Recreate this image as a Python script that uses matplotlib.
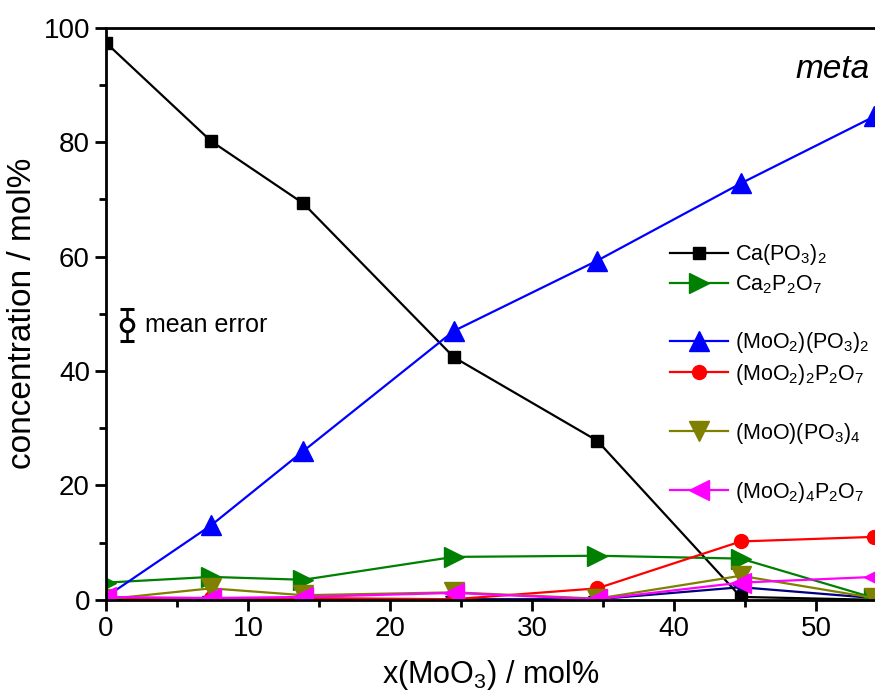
import matplotlib
matplotlib.use('Agg')
import matplotlib.pyplot as plt
from matplotlib.lines import Line2D
from matplotlib.ticker import MultipleLocator

plt.rcParams['font.family'] = ['Liberation Sans', 'DejaVu Sans']
plt.rcParams['mathtext.fontset'] = 'custom'
plt.rcParams['mathtext.rm'] = 'Liberation Sans'
plt.rcParams['mathtext.it'] = 'Liberation Sans:italic'

# data
x_moo3 = [0, 7.4, 13.9, 24.5, 34.6, 44.7, 54.1]
ca_po3 = [97.4, 80.2, 69.3, 42.4, 27.8, 0.5, 0.0]
ca2p2o7 = [3.0, 4.0, 3.5, 7.5, 7.7, 7.2, 0.3]
moo2_po3 = [0.5, 13.0, 26.0, 47.0, 59.3, 72.8, 84.5]
moo2_2p2o7 = [0.3, 0.3, 0.3, 0.1, 2.0, 10.2, 11.0]
moo_po3_4 = [0.1, 2.0, 0.8, 1.3, 0.2, 4.2, 0.3]
moo2_4p2o7 = [0.5, 0.3, 0.5, 1.2, 0.1, 3.0, 4.0]
other = [0.1, 0.1, 0.1, 0.1, 0.1, 2.2, 0.3]

err_x = [1.5]
err_y = [48.1]
err_val = [2.8]

fig = plt.figure(figsize=(8.75, 6.95), dpi=100)
ax = fig.add_axes([0.121, 0.137, 0.879, 0.823])

lw = 1.6
ax.plot(x_moo3, other, '-*', color='#000080', lw=lw, ms=13)
h1, = ax.plot(x_moo3, ca_po3, '-s', color='black', lw=lw, ms=8.5)
h2, = ax.plot(x_moo3, ca2p2o7, '->', color='#008000', lw=lw, ms=14)
h3, = ax.plot(x_moo3, moo2_po3, '-^', color='blue', lw=lw, ms=14)
h4, = ax.plot(x_moo3, moo2_2p2o7, '-o', color='red', lw=lw, ms=10)
h5, = ax.plot(x_moo3, moo_po3_4, '-v', color='#808000', lw=lw, ms=14)
h6, = ax.plot(x_moo3, moo2_4p2o7, '-<', color='magenta', lw=lw, ms=14)

ax.errorbar(err_x, err_y, yerr=err_val, fmt='o', mfc='white', mec='black',
            mew=2.2, ms=9, ecolor='black', elinewidth=1.8, capsize=5, capthick=1.8)
ax.text(2.75, 48.1, 'mean error', fontsize=18, va='center', ha='left')

ax.text(0.993, 0.913, 'meta', transform=ax.transAxes, fontsize=24,
        style='italic', ha='right', va='baseline')

blank = Line2D([], [], color='none')
handles = [h1, h2, blank, h3, h4, blank, h5, blank, h6]
labels = [r'Ca(PO$_3$)$_2$', r'Ca$_2$P$_2$O$_7$', ' ',
          r'(MoO$_2$)(PO$_3$)$_2$', r'(MoO$_2$)$_2$P$_2$O$_7$', ' ',
          r'(MoO)(PO$_3$)$_4$', ' ', r'(MoO$_2$)$_4$P$_2$O$_7$']
ax.legend(handles, labels, loc='upper left', bbox_to_anchor=(0.7335, 0.625),
          frameon=False, fontsize=15.5, handlelength=2.7, handletextpad=0.3,
          labelspacing=0.3, borderpad=0, borderaxespad=0)

ax.set_xlim(0, 54.15)
ax.set_ylim(0, 100)
ax.xaxis.set_major_locator(MultipleLocator(10))
ax.xaxis.set_minor_locator(MultipleLocator(5))
ax.yaxis.set_major_locator(MultipleLocator(20))
ax.yaxis.set_minor_locator(MultipleLocator(10))
ax.tick_params(which='major', direction='out', length=8, width=2, labelsize=20)
ax.tick_params(which='minor', direction='out', length=5, width=2)
ax.spines['right'].set_visible(False)
for s in ['left', 'bottom', 'top']:
    ax.spines[s].set_linewidth(2)

ax.set_xlabel(r'x(MoO$_3$) / mol%', fontsize=22, labelpad=12)
ax.set_ylabel('concentration / mol%', fontsize=24, labelpad=4)

plt.savefig('out.png', dpi=100)
